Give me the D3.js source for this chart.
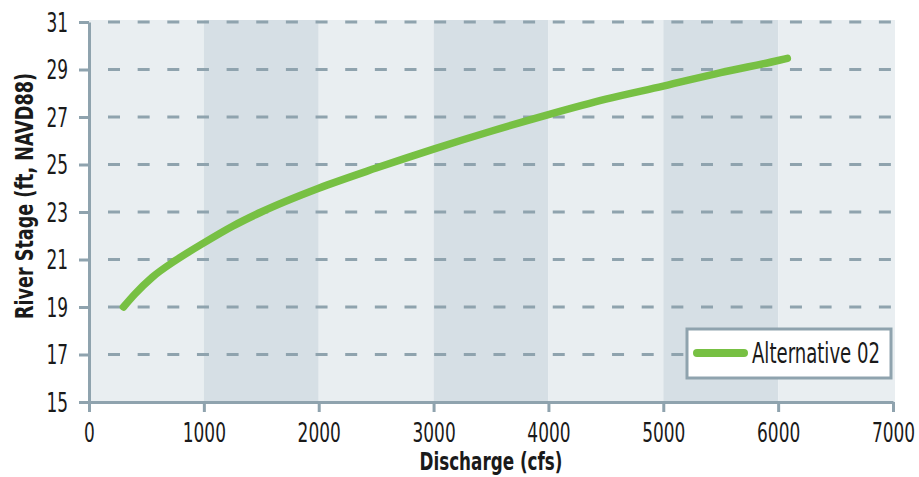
<!doctype html>
<html>
<head>
<script src="https://cdnjs.cloudflare.com/ajax/libs/d3/7.8.5/d3.min.js"></script>
<style>
body { margin: 0; background: #fff; }
svg { display: block; }
.tick text, .lbl {
  font-family: "Liberation Sans Narrow", "DejaVu Sans Condensed", "Arial Narrow", sans-serif;
  fill: #1a1a1a;
}
.title {
  font-family: "Liberation Sans Narrow", "DejaVu Sans Condensed", "Arial Narrow", sans-serif;
  font-weight: bold;
  fill: #1a1a1a;
}
</style>
</head>
<body>
<svg width="919" height="477"></svg>
<script>
// discharge (cfs) vs river stage (ft, NAVD88)
var discharge = [300, 400, 550, 750, 1000, 1250, 1500, 2000, 2500, 3000, 3500, 4000, 4500, 5000, 5500, 6000, 6080];
var stage     = [19.0, 19.55, 20.25, 20.95, 21.7, 22.4, 23.0, 24.0, 24.85, 25.65, 26.4, 27.1, 27.75, 28.3, 28.87, 29.38, 29.47];
var xTicks = [0, 1000, 2000, 3000, 4000, 5000, 6000, 7000];
var yTicks = [15, 17, 19, 21, 23, 25, 27, 29, 31];
var seriesName = "Alternative 02";

var axisCol = "#8fa3ae", green = "#77c043";
var svg = d3.select("svg");

var x = d3.scaleLinear().domain([0, 7000]).range([89, 893]);
var y = d3.scaleLinear().domain([15, 31]).range([402, 22]);

// alternating column bands
var bands = d3.range(xTicks.length - 1);
svg.append("g").selectAll("rect").data(bands).enter().append("rect")
  .attr("x", i => x(xTicks[i]))
  .attr("width", i => x(xTicks[i + 1]) - x(xTicks[i]) + (i == bands.length - 1 ? 2 : 0))
  .attr("y", y(31) - 2)
  .attr("height", y(15) - y(31) + 2)
  .attr("fill", i => i % 2 ? "#d6dfe5" : "#e9eef1");

// dashed horizontal grid
svg.append("g").selectAll("line").data(yTicks.slice(1)).enter().append("line")
  .attr("x1", x(0) + 19).attr("x2", x(7000))
  .attr("y1", d => y(d)).attr("y2", d => y(d))
  .attr("stroke", axisCol).attr("stroke-width", 3)
  .attr("stroke-dasharray", "12,17.65");

// axes
var yAxis = svg.append("g").attr("transform", "translate(" + x(0) + ",0)")
  .call(d3.axisLeft(y).tickValues(yTicks).tickSize(10).tickSizeOuter(0).tickPadding(11));
var xAxis = svg.append("g").attr("transform", "translate(0," + y(15) + ")")
  .call(d3.axisBottom(x).tickValues(xTicks).tickSize(10).tickSizeOuter(0).tickPadding(6).tickFormat(d3.format("d")));

[yAxis, xAxis].forEach(g => {
  g.select(".domain").attr("stroke", axisCol).attr("stroke-width", 3);
  g.selectAll(".tick line").attr("stroke", axisCol).attr("stroke-width", 3);
  g.selectAll(".tick text").style("font-size", "26px").attr("fill", "#1a1a1a")
    .attr("textLength", d => String(d).length * 10.8)
    .attr("lengthAdjust", "spacingAndGlyphs");
});
yAxis.selectAll(".tick text").attr("dy", "0.36em");
xAxis.selectAll(".tick text").attr("dy", "0.92em");

// curve
var pts = discharge.map((d, i) => [d, stage[i]]);
svg.append("path").datum(pts)
  .attr("fill", "none").attr("stroke", green).attr("stroke-width", 7.5)
  .attr("stroke-linecap", "round").attr("stroke-linejoin", "round")
  .attr("d", d3.line().x(d => x(d[0])).y(d => y(d[1])).curve(d3.curveMonotoneX));

// axis titles
svg.append("text").attr("class", "title")
  .attr("transform", "translate(33,196) rotate(-90)")
  .attr("text-anchor", "middle").style("font-size", "25px")
  .attr("textLength", 246).attr("lengthAdjust", "spacingAndGlyphs")
  .text("River Stage (ft, NAVD88)");
svg.append("text").attr("class", "title")
  .attr("x", (x(0) + x(7000)) / 2).attr("y", 470)
  .attr("text-anchor", "middle").style("font-size", "25px")
  .attr("textLength", 143).attr("lengthAdjust", "spacingAndGlyphs")
  .text("Discharge (cfs)");

// legend
var lg = svg.append("g").attr("transform", "translate(687,329)");
lg.append("rect").attr("width", 204).attr("height", 49)
  .attr("fill", "#fff").attr("stroke", axisCol).attr("stroke-width", 3);
lg.append("line").attr("x1", 10).attr("x2", 57).attr("y1", 24).attr("y2", 24)
  .attr("stroke", green).attr("stroke-width", 8).attr("stroke-linecap", "round");
lg.append("text").attr("class", "lbl").attr("x", 65).attr("y", 34)
  .style("font-size", "28px")
  .attr("textLength", 128).attr("lengthAdjust", "spacingAndGlyphs")
  .text(seriesName);
</script>
</body>
</html>
